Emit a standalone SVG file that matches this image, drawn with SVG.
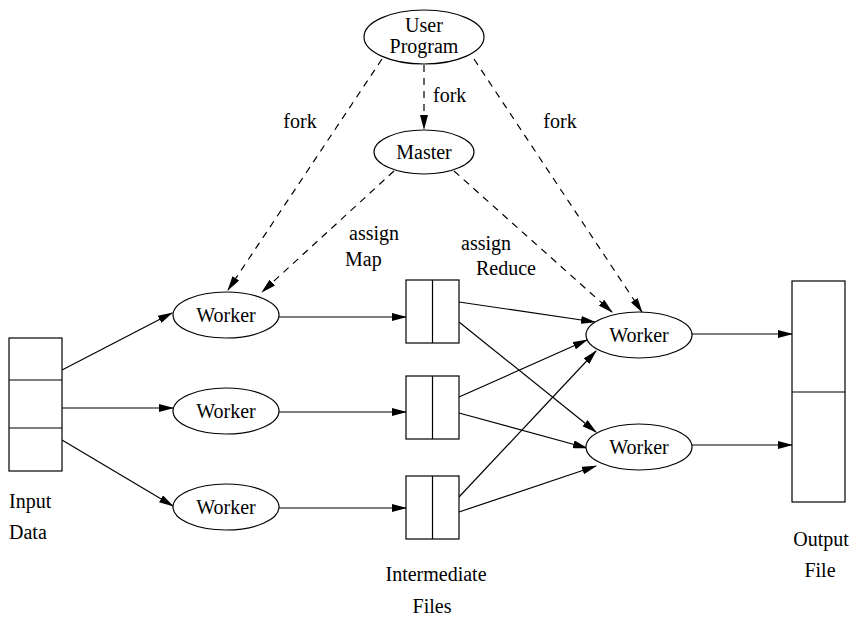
<svg xmlns="http://www.w3.org/2000/svg" width="852" height="619" viewBox="0 0 852 619">
<style>
.t{font-family:"Liberation Serif","DejaVu Serif",serif;font-size:20px;fill:#000}
.n{fill:#fff;stroke:#000;stroke-width:1.2}
.c{stroke:#000;stroke-width:1.2;fill:none}
.s{marker-end:url(#ah)}
.d{stroke-dasharray:7 6}
</style>
<defs>
<marker id="ah" markerWidth="15" markerHeight="8" refX="14" refY="4" orient="auto" markerUnits="userSpaceOnUse">
<path d="M0,0 L15,4 L0,8 Z" fill="#000"/>
</marker>
</defs>
<g id="connectors">
<line class="c d s" x1="424" y1="65" x2="424" y2="129"/>
<line class="c d s" x1="382" y1="59" x2="228" y2="290"/>
<line class="c d s" x1="474" y1="59" x2="642" y2="312"/>
<line class="c d s" x1="394" y1="171" x2="262" y2="292"/>
<line class="c d s" x1="454" y1="171" x2="612" y2="312"/>
<line class="c s" x1="62" y1="370" x2="172" y2="313"/>
<line class="c s" x1="62" y1="408" x2="173" y2="408"/>
<line class="c s" x1="62" y1="440" x2="173" y2="506"/>
<line class="c s" x1="279" y1="317" x2="406" y2="317"/>
<line class="c s" x1="279" y1="412" x2="406" y2="412"/>
<line class="c s" x1="279" y1="508" x2="406" y2="508"/>
<line class="c s" x1="459" y1="302" x2="595" y2="322"/>
<line class="c s" x1="459" y1="322" x2="596" y2="432"/>
<line class="c s" x1="459" y1="397" x2="587" y2="340"/>
<line class="c s" x1="459" y1="413" x2="587" y2="448"/>
<line class="c s" x1="459" y1="497" x2="596" y2="351"/>
<line class="c s" x1="459" y1="512" x2="596" y2="466"/>
<line class="c s" x1="692" y1="334" x2="792" y2="334"/>
<line class="c s" x1="692" y1="445" x2="792" y2="445"/>
</g>
<g class="t">
<g id="label-fork-center"><text x="433" y="102">fork</text></g>
<g id="label-fork-left"><text x="300" y="128" text-anchor="middle">fork</text></g>
<g id="label-fork-right"><text x="560" y="128" text-anchor="middle">fork</text></g>
<g id="label-assign-map"><text x="374" y="240" text-anchor="middle">assign</text><text x="345" y="266">Map</text></g>
<g id="label-assign-reduce"><text x="486" y="250" text-anchor="middle">assign</text><text x="506" y="275" text-anchor="middle">Reduce</text></g>
<g id="user-program">
<ellipse class="n" cx="424" cy="37" rx="60" ry="27"/>
<text x="424" y="32" text-anchor="middle">User</text>
<text x="424" y="53" text-anchor="middle">Program</text>
</g>
<g id="master">
<ellipse class="n" cx="424" cy="152" rx="50" ry="22"/>
<text x="424" y="159" text-anchor="middle">Master</text>
</g>
<g id="input-data">
<rect class="n" x="9" y="338" width="53" height="133"/>
<line class="c" x1="9" y1="380" x2="62" y2="380"/>
<line class="c" x1="9" y1="428" x2="62" y2="428"/>
<text x="9" y="508">Input</text>
<text x="9" y="539">Data</text>
</g>
<g id="worker-map-1">
<ellipse class="n" cx="226" cy="315" rx="53" ry="23"/>
<text x="226" y="322" text-anchor="middle">Worker</text>
</g>
<g id="worker-map-2">
<ellipse class="n" cx="226" cy="411" rx="53" ry="23"/>
<text x="226" y="418" text-anchor="middle">Worker</text>
</g>
<g id="worker-map-3">
<ellipse class="n" cx="226" cy="507" rx="53" ry="23"/>
<text x="226" y="514" text-anchor="middle">Worker</text>
</g>
<g id="intermediate-1">
<rect class="n" x="406" y="280" width="53" height="63"/>
<line class="c" x1="432.5" y1="280" x2="432.5" y2="343"/>
</g>
<g id="intermediate-2">
<rect class="n" x="406" y="376" width="53" height="63"/>
<line class="c" x1="432.5" y1="376" x2="432.5" y2="439"/>
</g>
<g id="intermediate-3">
<rect class="n" x="406" y="476" width="53" height="63"/>
<line class="c" x1="432.5" y1="476" x2="432.5" y2="539"/>
</g>
<g id="intermediate-label">
<text x="436" y="581" text-anchor="middle">Intermediate</text>
<text x="432" y="613" text-anchor="middle">Files</text>
</g>
<g id="worker-reduce-1">
<ellipse class="n" cx="639" cy="335" rx="53" ry="23"/>
<text x="639" y="342" text-anchor="middle">Worker</text>
</g>
<g id="worker-reduce-2">
<ellipse class="n" cx="639" cy="447" rx="53" ry="23"/>
<text x="639" y="454" text-anchor="middle">Worker</text>
</g>
<g id="output-file">
<rect class="n" x="792" y="281" width="53" height="221"/>
<line class="c" x1="792" y1="392" x2="845" y2="392"/>
<text x="821" y="546" text-anchor="middle">Output</text>
<text x="820" y="577" text-anchor="middle">File</text>
</g>
</g>
</svg>
